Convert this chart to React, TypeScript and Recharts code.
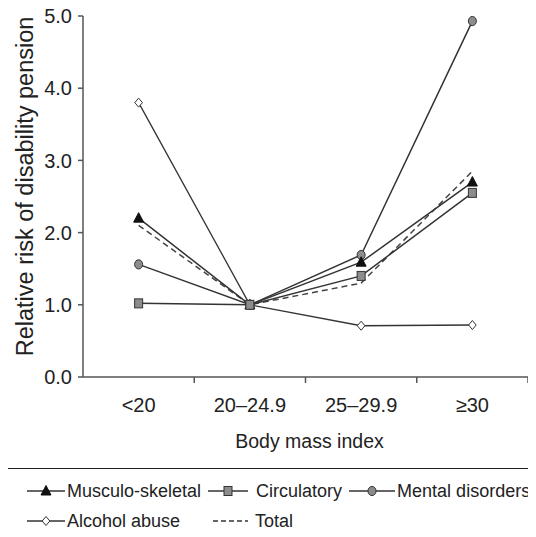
import { LineChart, Line, XAxis, YAxis, Label } from 'recharts'

const categories = ['<20', '20–24.9', '25–29.9', '≥30']
const musculoSkeletal = [2.2, 1.0, 1.59, 2.7]
const circulatory = [1.02, 1.0, 1.4, 2.55]
const mentalDisorders = [1.56, 1.0, 1.69, 4.93]
const alcoholAbuse = [3.8, 1.0, 0.71, 0.72]
const total = [2.1, 1.0, 1.3, 2.85]
const yTicks = [0, 1, 2, 3, 4, 5]

type Shape = 'triangle' | 'square' | 'circle' | 'diamond' | 'none'

const series: { key: string; name: string; values: number[]; shape: Shape; dashed?: boolean }[] = [
  { key: 'musculo', name: 'Musculo-skeletal', values: musculoSkeletal, shape: 'triangle' },
  { key: 'circulatory', name: 'Circulatory', values: circulatory, shape: 'square' },
  { key: 'mental', name: 'Mental disorders', values: mentalDisorders, shape: 'circle' },
  { key: 'alcohol', name: 'Alcohol abuse', values: alcoholAbuse, shape: 'diamond' },
  { key: 'total', name: 'Total', values: total, shape: 'none', dashed: true },
]

// draw order: circulatory squares end up on top, like the original
const drawOrder = ['alcohol', 'total', 'mental', 'musculo', 'circulatory']

const rows = categories.map((c, i) => {
  const row: Record<string, number | string> = { pos: i + 0.5, label: c }
  series.forEach(s => { row[s.key] = s.values[i] })
  return row
})

// band boundaries get a tick line, band centres get the label
const xTicks = categories.flatMap((_, i) => [i, i + 0.5]).concat(categories.length)

const INK = '#222'
const AXIS = '#555'
const FONT = '"Liberation Sans", Arial, sans-serif'

function Marker({ shape, cx, cy }: { shape: Shape; cx: number; cy: number }) {
  switch (shape) {
    case 'triangle':
      return <path d={`M${cx},${cy - 5.5} L${cx + 5},${cy + 4} L${cx - 5},${cy + 4} Z`} fill="#111" stroke="#111" strokeWidth={1} />
    case 'square':
      return <rect x={cx - 4} y={cy - 4.5} width={8} height={9} fill="#8c8c8c" stroke="#333" strokeWidth={1} />
    case 'circle':
      return <ellipse cx={cx} cy={cy} rx={4} ry={4.6} fill="#8c8c8c" stroke="#333" strokeWidth={1} />
    case 'diamond':
      return <path d={`M${cx},${cy - 4.5} L${cx + 3.8},${cy} L${cx},${cy + 4.5} L${cx - 3.8},${cy} Z`} fill="#fff" stroke="#333" strokeWidth={1} />
    default:
      return null
  }
}

function XTick({ x, y, payload }: any) {
  const v = payload.value as number
  if (Number.isInteger(v)) {
    if (v === 0) return null
    return <line x1={x} y1={y} x2={x} y2={y + 6} stroke={AXIS} strokeWidth={1.5} />
  }
  return (
    <text x={x} y={y + 28} textAnchor="middle" dominantBaseline="central" fontSize={20} fill={INK} fontFamily={FONT}>
      {categories[Math.floor(v)]}
    </text>
  )
}

const legendLayout: Record<string, { lead: number; w: number; gap: number }> = {
  musculo: { lead: 0, w: 38, gap: 2 },
  circulatory: { lead: 0, w: 40, gap: 8 },
  mental: { lead: 0, w: 46, gap: 2 },
  alcohol: { lead: 0, w: 38, gap: 2 },
  total: { lead: 5, w: 35, gap: 7 },
}

function LegendBox() {
  return (
    <div style={{
      position: 'absolute', left: 7, top: 468, width: 620, height: 100,
      border: '1px solid #222', boxSizing: 'border-box', padding: '7px 0 0 19px',
      fontFamily: FONT, fontSize: 18, color: INK,
    }}>
      <div style={{ display: 'grid', gridTemplateColumns: 'max-content max-content max-content', columnGap: 7 }}>
        {series.map(s => {
          const l = legendLayout[s.key]
          return (
            <div key={s.key} style={{ display: 'flex', alignItems: 'center', height: 30, paddingLeft: l.lead }}>
              <svg width={l.w} height={16} style={{ marginRight: l.gap, flex: 'none' }}>
                <line x1={0} y1={8} x2={l.w} y2={8} stroke="#333" strokeWidth={1.5} strokeDasharray={s.dashed ? '5 3' : undefined} />
                <Marker shape={s.shape} cx={l.w / 2} cy={8} />
              </svg>
              <span style={{ whiteSpace: 'nowrap' }}>{s.name}</span>
            </div>
          )
        })}
      </div>
    </div>
  )
}

export default function App() {
  return (
    <div style={{ margin: -8, width: 536, height: 537, overflow: 'hidden', position: 'relative', background: '#fff' }}>
      <LineChart width={536} height={537} data={rows} margin={{ top: 16, right: 8, left: 0, bottom: 85 }}>
        <XAxis
          type="number"
          dataKey="pos"
          domain={[0, categories.length]}
          ticks={xTicks}
          interval={0}
          tickLine={false}
          tickSize={0}
          tickMargin={0}
          tick={<XTick />}
          height={75}
          axisLine={{ stroke: AXIS, strokeWidth: 1.5 }}
        >
          <Label value="Body mass index" position="insideBottom" offset={4} dx={4} fontSize={19.5} fill={INK} fontFamily={FONT} />
        </XAxis>
        <YAxis
          type="number"
          domain={[0, 5]}
          ticks={yTicks}
          interval={0}
          width={83}
          tickSize={5}
          tickMargin={6}
          tickFormatter={(v: number) => v.toFixed(1)}
          tick={{ fontSize: 20, fill: INK, fontFamily: FONT }}
          tickLine={{ stroke: AXIS, strokeWidth: 1.5 }}
          axisLine={{ stroke: AXIS, strokeWidth: 1.5 }}
        >
          <Label value="Relative risk of disability pension" angle={-90} position="center" dx={-17} dy={-10} fontSize={23.5} fill={INK} fontFamily={FONT} />
        </YAxis>
        {drawOrder.map(k => {
          const s = series.find(x => x.key === k)!
          return (
            <Line
              key={s.key}
              type="linear"
              dataKey={s.key}
              name={s.name}
              stroke={s.dashed ? '#444' : '#333'}
              strokeWidth={s.key === 'alcohol' ? 1.3 : 1.5}
              strokeDasharray={s.dashed ? '6 4' : undefined}
              dot={s.shape === 'none' ? false : (p: any) => <Marker key={`${s.key}-${p.index}`} shape={s.shape} cx={p.cx} cy={p.cy} />}
              activeDot={false}
              isAnimationActive={false}
            />
          )
        })}
      </LineChart>
      <LegendBox />
    </div>
  )
}
